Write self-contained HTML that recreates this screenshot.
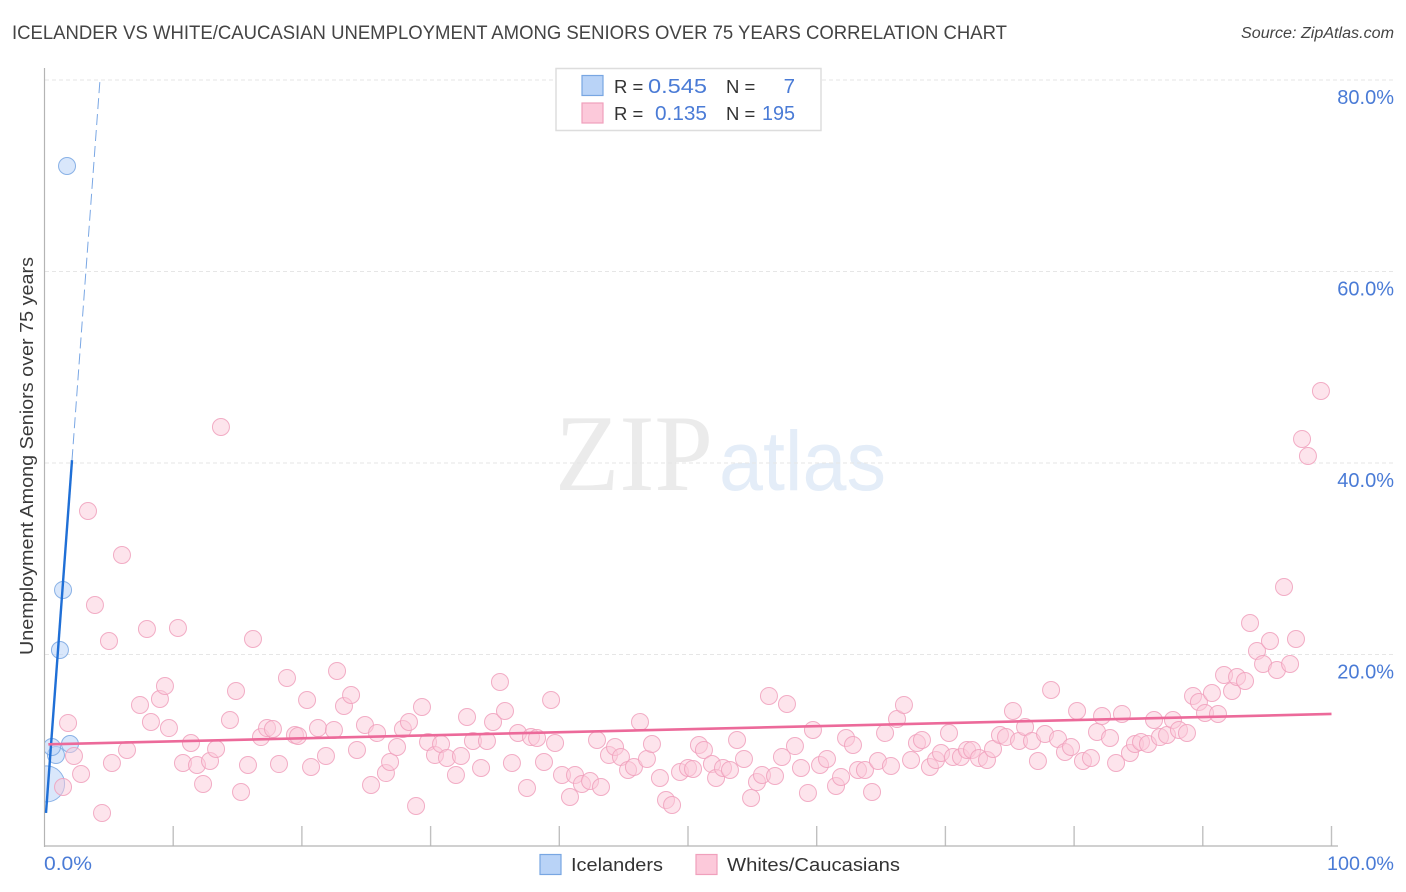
<!DOCTYPE html>
<html lang="en">
<head>
<meta charset="utf-8">
<title>Icelander vs White/Caucasian Unemployment Among Seniors Over 75 Years Correlation Chart</title>
<style>
html,body{margin:0;padding:0;background:#fff;width:1406px;height:892px;overflow:hidden}
svg{display:block;font-family:"Liberation Sans",sans-serif}
</style>
</head>
<body>
<svg id="chart" xmlns="http://www.w3.org/2000/svg" width="1406" height="892" viewBox="0 0 1406 892">
  <rect x="0" y="0" width="1406" height="892" fill="#ffffff"/>
  <text x="12" y="39" font-size="19.5" fill="#444444" textLength="995" lengthAdjust="spacingAndGlyphs">ICELANDER VS WHITE/CAUCASIAN UNEMPLOYMENT AMONG SENIORS OVER 75 YEARS CORRELATION CHART</text>
  <text x="1241" y="38" font-size="15.5" font-style="italic" fill="#444444" textLength="153" lengthAdjust="spacingAndGlyphs">Source: ZipAtlas.com</text>

  <g>
    <text x="555" y="490" font-family="'Liberation Serif',serif" font-size="109" fill="#ebebeb" textLength="158" lengthAdjust="spacingAndGlyphs">ZIP</text>
    <text x="719" y="490" font-size="84" fill="#e4edf8" textLength="167" lengthAdjust="spacingAndGlyphs">atlas</text>
  </g>

  <g id="grid"></g>
  <g id="xticks"></g>
  <line x1="44.5" y1="68" x2="44.5" y2="847" stroke="#b4b4b4" stroke-width="1.2"/>
  <line x1="44" y1="846" x2="1338" y2="846" stroke="#b4b4b4" stroke-width="1.2"/>

  <defs>
    <clipPath id="plot-clip"><rect x="45" y="60" width="1300" height="786"/></clipPath>
  </defs>
  <g id="points" clip-path="url(#plot-clip)"></g>
  <g id="trends"></g>
  <g id="ylabels"></g>

  <text transform="translate(33 456) rotate(-90)" font-size="18.5" fill="#3a3a3a" text-anchor="middle" textLength="398" lengthAdjust="spacingAndGlyphs">Unemployment Among Seniors over 75 years</text>
  <text x="44" y="870" font-size="19.5" fill="#4a7bd6" textLength="48" lengthAdjust="spacingAndGlyphs">0.0%</text>
  <text x="1327" y="870" font-size="19.5" fill="#4a7bd6" textLength="67" lengthAdjust="spacingAndGlyphs">100.0%</text>

  <g>
    <rect x="556" y="68.5" width="265" height="62" fill="#ffffff" stroke="#dddddd" stroke-width="1.5"/>
    <rect x="582" y="75.5" width="21" height="20" fill="#b9d3f7" stroke="#78a6e2" stroke-width="1.2"/>
    <rect x="582" y="103" width="21" height="20" fill="#fcc9da" stroke="#f0a0bc" stroke-width="1.2"/>
    <text x="614" y="93" font-size="18.5" fill="#333333">R =</text>
    <text x="648" y="93" font-size="20.5" fill="#4a7bd6" textLength="59" lengthAdjust="spacingAndGlyphs">0.545</text>
    <text x="726" y="93" font-size="18.5" fill="#333333">N =</text>
    <text x="795" y="93" font-size="20.5" fill="#4a7bd6" text-anchor="end">7</text>
    <text x="614" y="120" font-size="18.5" fill="#333333">R =</text>
    <text x="655" y="120" font-size="20.5" fill="#4a7bd6" textLength="52" lengthAdjust="spacingAndGlyphs">0.135</text>
    <text x="726" y="120" font-size="18.5" fill="#333333">N =</text>
    <text x="762" y="120" font-size="20.5" fill="#4a7bd6" textLength="33" lengthAdjust="spacingAndGlyphs">195</text>
  </g>

  <g>
    <rect x="540" y="854.5" width="21" height="20" fill="#b9d3f7" stroke="#78a6e2" stroke-width="1.2"/>
    <text x="571" y="871" font-size="18.5" fill="#333333" textLength="92" lengthAdjust="spacingAndGlyphs">Icelanders</text>
    <rect x="696" y="854.5" width="21" height="20" fill="#fcc9da" stroke="#f0a0bc" stroke-width="1.2"/>
    <text x="727" y="871" font-size="18.5" fill="#333333" textLength="173" lengthAdjust="spacingAndGlyphs">Whites/Caucasians</text>
  </g>
</svg>

<script>
const yTickValues = [20, 40, 60, 80];
const yTickLabels = ['20.0%', '40.0%', '60.0%', '80.0%'];
const xTickValues = [10, 20, 30, 40, 50, 60, 70, 80, 90, 100];

const icelanderX = [1.75, 1.44, 1.20, 0.89, 1.98, 0.58, 0.16];
const icelanderY = [71.02, 26.74, 20.47, 9.50, 10.65, 10.34, 6.48];
const icelanderWeight = [1, 1, 1, 1, 1, 1, 4.5];

const whitesX = [1.44,4.47,2.84,2.29,1.83,5.24,6.41,7.42,8.27,8.97,9.36,9.67,10.76,11.38,11.85,12.32,12.86,13.33,14.41,14.88,
15.27,15.81,16.82,17.29,17.75,18.22,19.46,19.70,20.40,20.71,21.25,21.87,22.49,23.27,23.82,24.28,24.90,25.37,25.84,26.53,
26.85,27.39,27.85,28.32,28.87,29.33,29.80,30.34,30.81,31.27,31.97,32.36,32.83,33.29,33.92,34.38,34.85,35.39,35.78,36.32,
36.79,37.49,37.80,38.27,38.81,39.67,39.36,40.21,40.83,41.22,41.76,42.39,42.93,43.24,43.86,44.33,44.79,45.34,45.80,46.27,
46.81,47.20,47.82,48.29,48.76,49.38,50.00,50.39,50.85,51.24,51.86,52.18,52.72,53.26,53.81,54.35,54.90,55.36,55.75,56.29,
56.76,57.30,57.69,58.31,58.78,59.32,59.71,60.26,60.80,61.50,61.89,62.28,62.82,63.21,63.75,64.30,64.76,65.31,65.77,66.24,
66.78,67.33,67.79,68.18,68.80,69.27,69.66,70.28,70.59,71.21,71.68,72.07,72.61,73.23,73.70,74.24,74.71,75.25,75.72,76.19,
76.73,77.19,77.74,78.21,78.75,79.29,79.76,80.23,80.69,81.31,81.78,82.17,82.79,83.26,83.72,84.34,84.73,85.20,85.74,86.21,
86.67,87.22,87.68,88.15,88.77,89.24,89.70,90.17,90.71,91.18,91.65,92.27,92.66,93.28,93.67,94.21,94.68,95.22,95.76,96.31,
96.78,97.24,97.71,98.17,99.18,3.38,6.02,3.92,5.01,7.96,10.37,16.20,13.71,18.84,22.73];
const whitesY = [6.16,3.45,7.52,9.40,12.85,8.67,10.03,14.73,12.95,15.35,16.71,12.32,8.67,10.76,8.46,6.48,8.88,10.13,13.16,16.19,
5.64,8.46,11.38,12.32,12.22,8.56,11.59,11.49,15.25,8.25,12.32,9.40,12.12,14.62,15.77,10.03,12.64,6.37,11.80,7.62,
8.77,10.34,12.22,12.95,4.18,14.52,10.86,9.50,10.65,9.19,7.42,9.40,13.47,10.97,8.15,10.97,12.95,17.13,14.10,8.67,
11.80,6.06,11.38,11.28,8.77,10.76,15.25,7.42,5.12,7.42,6.48,6.79,11.07,6.16,9.50,10.34,9.30,7.94,8.25,12.95,
9.09,10.65,7.10,4.80,4.28,7.73,8.15,8.04,10.55,10.03,8.56,7.10,8.15,7.94,11.07,9.09,5.01,6.68,7.42,15.67,
7.31,9.30,14.83,10.44,8.15,5.54,12.12,8.46,9.09,6.27,7.21,11.28,10.55,7.94,7.94,5.64,8.88,11.80,8.36,13.26,
14.73,8.98,10.76,11.07,8.25,8.98,9.71,11.80,9.30,9.30,10.03,10.03,9.19,8.98,10.13,11.59,11.38,14.10,10.97,12.43,
10.97,8.88,11.70,16.29,11.18,9.82,10.34,14.10,8.88,9.19,11.91,13.58,11.28,8.67,13.79,9.71,10.65,10.86,10.65,13.16,
11.38,11.59,13.16,12.12,11.80,15.67,15.04,13.89,15.98,13.79,17.86,16.19,17.65,17.23,23.29,20.37,19.01,21.41,18.38,27.05,
19.01,21.62,42.51,40.73,47.52,34.99,30.39,25.17,21.41,22.66,22.77,21.62,43.76,17.55,18.28];

const icelanderTrendX = [0.117, 2.137, 4.31];
const icelanderTrendY = [3.45, 40.3, 80];
const whitesTrendX = [0.3, 100];
const whitesTrendY = [10.62, 13.79];

const NS = 'http://www.w3.org/2000/svg';
function xScale(v) { return 44.5 + v * 12.87; }
function yScale(v) { return 846 - v * 9.575; }
function make(tag, attrs) {
  const el = document.createElementNS(NS, tag);
  for (const k in attrs) el.setAttribute(k, attrs[k]);
  return el;
}

const grid = document.getElementById('grid');
const ylabels = document.getElementById('ylabels');
yTickValues.forEach(function (v, i) {
  const line = make('line', {x1: 45, x2: 1394, y1: yScale(v), y2: yScale(v), stroke: '#e6e6e6', 'stroke-width': 1, 'stroke-dasharray': '4 3'});
  
  
  grid.appendChild(line);
  const label = make('text', {x: 1394, y: yScale(v) + 24, 'font-size': 20, fill: '#4a7bd6', 'text-anchor': 'end'});
  label.textContent = yTickLabels[i];
  
  
  ylabels.appendChild(label);
});

const xticks = document.getElementById('xticks');
xTickValues.forEach(function (v) {
  const tick = make('line', {x1: xScale(v), x2: xScale(v), y1: 826, y2: 846, stroke: '#c0c0c0', 'stroke-width': 1.4});
  
  
  xticks.appendChild(tick);
});

const points = document.getElementById('points');
icelanderX.forEach(function (v, i) {
  const c = make('circle', {cx: xScale(v), cy: yScale(icelanderY[i]), r: 8.5 * Math.sqrt(icelanderWeight[i]), fill: '#b9d3f7', 'fill-opacity': 0.55, stroke: '#78a6e2', 'stroke-opacity': 0.85, 'stroke-width': 1});
  
  
  points.appendChild(c);
});
whitesX.forEach(function (v, i) {
  const c = make('circle', {cx: xScale(v), cy: yScale(whitesY[i]), r: 8.5, fill: '#fcc9da', 'fill-opacity': 0.5, stroke: '#f0a0bc', 'stroke-opacity': 0.85, 'stroke-width': 1});
  
  
  points.appendChild(c);
});

const trends = document.getElementById('trends');
const iceSolid = make('line', {x1: xScale(icelanderTrendX[0]), y1: yScale(icelanderTrendY[0]), x2: xScale(icelanderTrendX[1]), y2: yScale(icelanderTrendY[1]), stroke: '#1f6fd6', 'stroke-width': 2.4});


trends.appendChild(iceSolid);
const iceDash = make('line', {x1: xScale(icelanderTrendX[1]), y1: yScale(icelanderTrendY[1]), x2: xScale(icelanderTrendX[2]), y2: yScale(icelanderTrendY[2]), stroke: '#7aa7e4', 'stroke-width': 1, 'stroke-dasharray': '11 5'});


trends.appendChild(iceDash);
const whitesLine = make('line', {x1: xScale(whitesTrendX[0]), y1: yScale(whitesTrendY[0]), x2: xScale(whitesTrendX[1]), y2: yScale(whitesTrendY[1]), stroke: '#ec6a9a', 'stroke-width': 2.6});


trends.appendChild(whitesLine);
</script>
</body>
</html>
